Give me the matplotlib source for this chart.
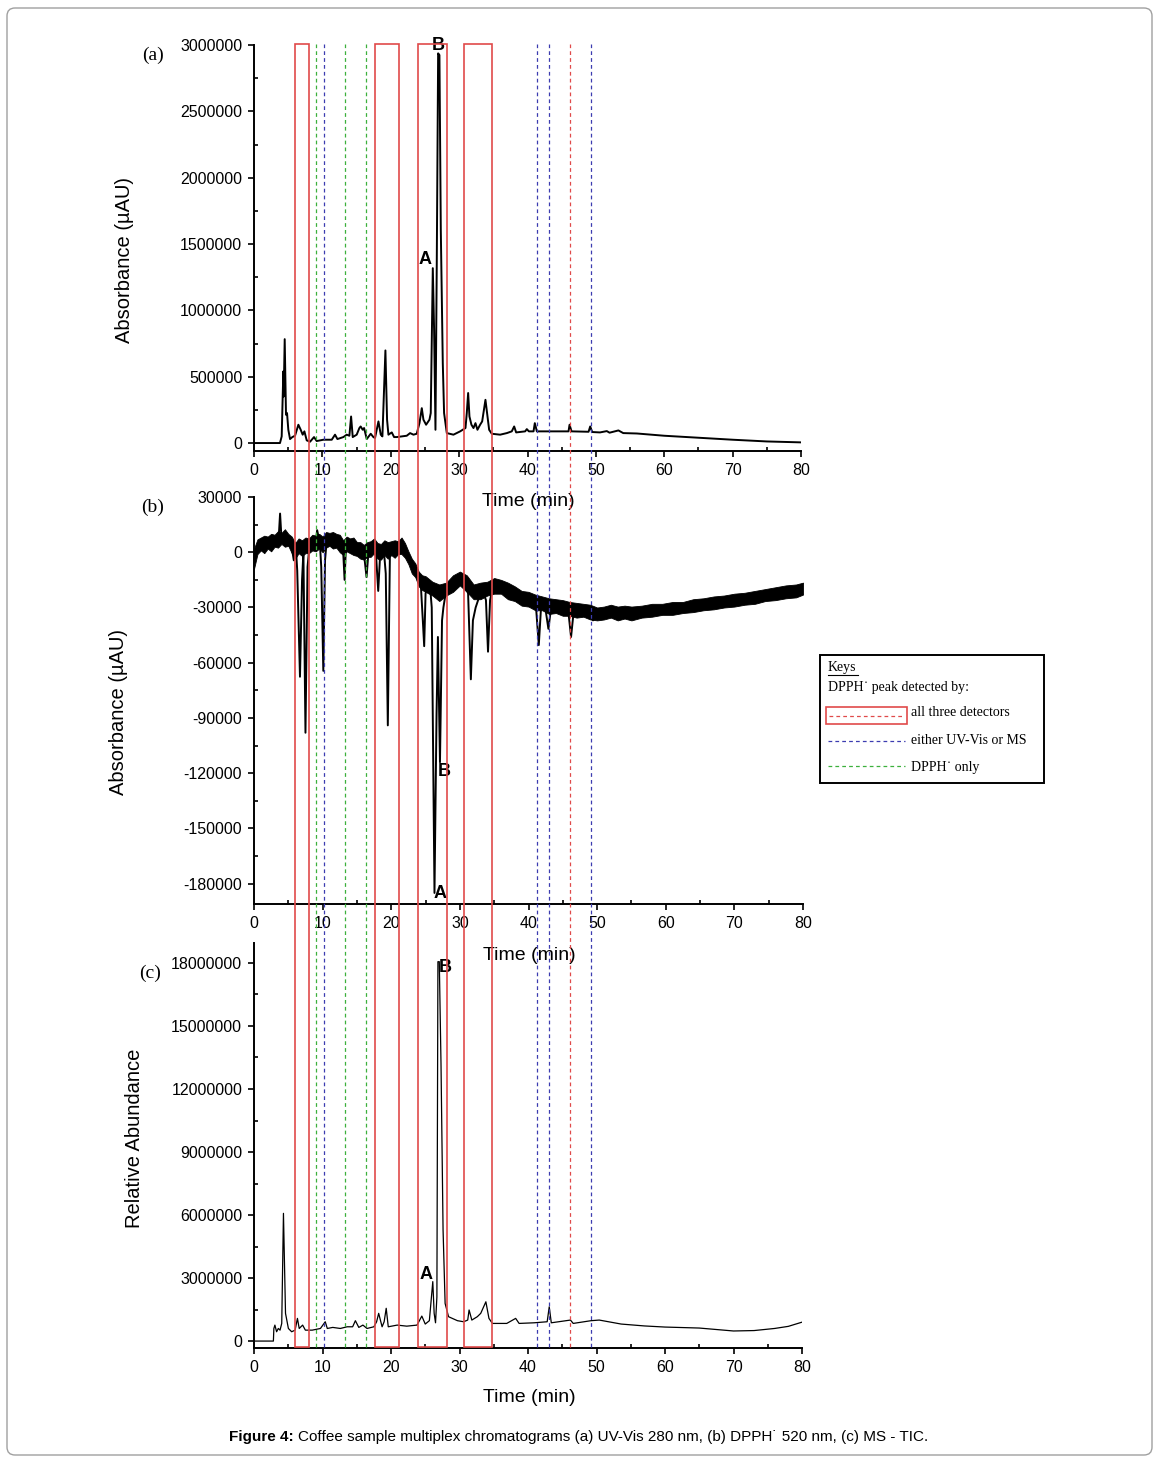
import matplotlib
matplotlib.use('Agg')
import matplotlib.pyplot as plt
import matplotlib.transforms as mtransforms
from matplotlib.ticker import MultipleLocator, FixedLocator, FixedFormatter
from matplotlib.patches import Rectangle, FancyBboxPatch
from matplotlib.lines import Line2D

plt.rcParams['font.family'] = ['Liberation Sans', 'DejaVu Sans']
plt.rcParams['axes.unicode_minus'] = False

# ---- data ----
# (a) UV-Vis 280 nm
a_time = [0, 3.8, 4.05, 4.29, 4.34, 4.49, 4.68, 4.83, 5.02, 5.27, 5.61, 6.0, 6.49, 6.83, 7.12,
          7.37, 7.71, 8.2, 8.78, 9.17, 10.15, 11.37, 11.85, 12.2, 13.07, 13.56, 13.95, 14.2,
          14.44, 15.02, 15.41, 15.6, 15.9, 16.1, 16.49, 17.07, 17.46, 17.7, 18.2, 18.54, 18.78,
          19.22, 19.46, 19.66, 20.15, 20.49, 20.88, 22.34, 22.83, 23.32, 23.8, 24.2, 24.54,
          24.78, 25.17, 25.66, 25.85, 26.15, 26.34, 26.54, 26.73, 26.93, 27.12, 27.32, 27.61,
          27.8, 28.2, 29.17, 30.15, 30.93, 31.12, 31.32, 31.51, 31.8, 32.1, 32.39, 32.68, 33.07,
          33.37, 33.85, 34.15, 34.39, 34.78, 36.0, 36.98, 37.7, 38.05, 38.34, 39.66, 39.9, 40.2,
          40.88, 41.07, 41.37, 46.0, 46.15, 46.44, 48.93, 49.17, 49.46, 50.6, 51.6, 52.0, 53.3,
          54.0, 56.0, 60.0, 65.0, 70.0, 75.0, 80.0]
a_abs = [0, 0, 50000, 540000, 351000, 783000, 213000, 226000, 100000, 30000, 45000, 55000,
         138000, 100000, 63000, 88000, 20000, 10000, 45000, 15000, 25000, 25000, 63000, 30000,
         45000, 63000, 55000, 200000, 45000, 63000, 113000, 125000, 100000, 113000, 30000,
         70000, 45000, 38000, 163000, 63000, 50000, 698000, 176000, 63000, 80000, 45000, 45000,
         55000, 75000, 63000, 70000, 150000, 263000, 176000, 138000, 176000, 226000, 1318000,
         853000, 100000, 1355000, 2937000, 2924000, 1606000, 602000, 226000, 75000, 63000,
         88000, 113000, 226000, 377000, 200000, 138000, 113000, 150000, 100000, 138000, 163000,
         326000, 200000, 100000, 70000, 63000, 75000, 88000, 125000, 80000, 88000, 105000,
         88000, 88000, 150000, 88000, 88000, 138000, 88000, 85000, 125000, 83000, 80000, 90000,
         78000, 95000, 75000, 72000, 55000, 40000, 25000, 12000, 5000]

# (b) DPPH 520 nm, trace
b_time = [0, 0.5, 1, 2, 3, 3.6, 3.8, 4.0, 4.5, 5, 5.4, 5.8, 6.1, 6.3, 6.7, 7.0, 7.2, 7.5, 7.8,
          8.1, 8.5, 9, 9.2, 9.6, 9.8, 10.1, 10.35, 10.6, 11, 12, 12.5, 13.0, 13.2, 13.4, 14, 15,
          15.5, 16, 16.4, 16.7, 17.3, 17.8, 18.1, 18.4, 18.9, 19.2, 19.5, 19.8, 20.2, 21, 21.3,
          21.7, 22.2, 22.8, 23.3, 23.8, 24.3, 24.6, 24.8, 25.0, 25.3, 25.6, 25.9, 26.3, 26.6,
          26.8, 27.1, 27.4, 27.6, 28.0, 28.5, 29.2, 29.8, 30.3, 30.8, 31.2, 31.6, 31.9, 32.3,
          32.8, 33.3, 33.8, 34.1, 34.4, 34.8, 35.2, 36, 37, 38, 38.5, 39.5, 40.5, 41.1, 41.5,
          41.8, 42.4, 42.9, 43.3, 44, 45, 45.8, 46.2, 46.6, 47.5, 48.5, 49.1, 49.4, 49.8, 50.5,
          52, 53.6, 55, 57, 60, 62, 65, 67, 70, 72, 75, 77, 80]
b_abs = [-5000, 3000, 4000, 5000, 6000, 8000, 21000, 8000, 8000, 7000, 5000, -4400, 3000,
         -10000, -67600, -15000, 0, -98000, -8000, 4000, 4500, 5000, 12000, 5000, -8000,
         -64400, -4400, 6500, 7000, 6000, 5000, 0, -15000, 3000, 4000, 2000, 1000, 0, -13500,
         1000, 3000, -2500, -21000, 0, 2000, -11600, -94000, -2500, 2000, 2500, 3000, 4700, 1000,
         -5300, -9800, -13500, -17000, -37000, -51000, -22500, -17000, -16000, -30000,
         -185000, -88000, -46000, -114000, -37000, -30000, -20700, -18000, -17000, -13500,
         -15000, -17000, -22500, -69000, -37000, -30000, -24400, -20700, -26000, -54000,
         -26000, -19000, -17000, -19000, -21600, -23500, -26000, -25000, -25500, -30000,
         -50400, -31600, -29000, -41600, -30000, -29000, -30000, -32000, -46000, -31600,
         -31000, -32000, -33400, -37000, -34400, -33500, -32000, -32500, -33000, -32000,
         -31000, -30000, -29000, -27500, -26000, -25000, -23000, -22000, -20000]

# (b) noise band envelope
band_time = [0, 0.5, 1, 1.5, 2, 2.5, 3, 3.5, 4, 4.5, 5, 5.5, 6, 6.5, 7, 7.5, 8, 8.5, 9, 9.5,
             10, 10.5, 11, 11.5, 12, 12.5, 13, 13.5, 14, 14.5, 15, 15.5, 16, 16.5, 17, 17.5,
             18, 18.5, 19, 19.5, 20, 20.5, 21, 21.5, 22, 22.5, 23, 23.5, 24, 24.5, 25, 26, 27,
             28, 29, 30, 31, 32, 33, 34, 35, 36, 37, 38, 39, 40, 41, 42, 43, 44, 45, 46, 47,
             48, 49, 50, 51, 52, 53, 54, 55, 56.5, 58, 59.5, 61, 62.5, 64, 65.5, 67, 68.5, 70,
             71.5, 73, 74.5, 76, 77.5, 79, 80]
band_lo = [-9000, -1000, 1000, -500, 2000, 500, 3000, 2500, 4500, 3000, 3500, -500, -3500,
           -500, -2000, -500, -500, 1000, 500, 2000, 0, 2500, 3500, 2000, 2500, 0, -1500, 500,
           -500, -1500, -2000, -3500, -4000, -2500, -2500, -500, -3500, -4000, -1500, -3500,
           -1500, -3000, -1000, -1000, -3000, -6500, -11500, -13500, -18500, -20500, -21500,
           -23500, -26500, -23500, -21500, -18000, -21500, -25500, -25500, -23500, -22500,
           -22500, -25500, -26500, -29000, -29500, -31500, -31500, -33500, -33000, -34500,
           -34500, -35500, -35000, -36500, -37000, -36500, -35500, -37000, -36000, -37000,
           -35500, -35000, -34000, -34000, -33000, -32500, -31500, -31000, -30000, -29500,
           -28500, -28000, -26500, -26000, -25000, -24500, -23000]
band_hi = [2000, 7000, 8000, 9000, 8500, 10000, 9500, 11500, 10500, 12500, 10000, 8500, 5000,
           7500, 6500, 8000, 7500, 9500, 9000, 10000, 8500, 11000, 10500, 11000, 10000, 9500,
           6500, 8500, 7500, 8000, 5500, 5500, 4000, 5500, 6000, 7500, 5000, 4500, 6500, 5500,
           6000, 6500, 6000, 8000, 5000, 500, -3500, -6000, -10500, -12500, -13000, -16000,
           -17500, -16500, -12500, -10500, -12500, -17500, -16500, -16000, -14000, -15000,
           -16500, -18500, -21000, -21500, -23000, -24000, -25000, -25500, -26000, -27000,
           -27500, -28000, -28500, -30000, -29500, -28500, -29500, -29000, -29500, -29000,
           -28000, -28000, -27000, -27000, -25500, -25000, -24000, -23500, -22500, -22000,
           -21000, -20000, -19000, -18000, -17500, -16500]

# (c) MS - TIC
c_time = [0, 2.83, 2.9, 3.05, 3.3, 3.55, 3.8, 4.05, 4.3, 4.6, 5.02, 5.5, 6.0, 6.34, 6.6, 7.1,
          7.5, 8.5, 9.7, 10.4, 10.7, 11.5, 12.6, 13.6, 14.4, 14.8, 15.3, 15.9, 16.5, 17.5, 17.9,
          18.2, 18.7, 19.0, 19.3, 19.6, 20.9, 22.3, 23.8, 24.5, 25.0, 25.6, 26.1, 26.3, 26.5,
          26.7, 26.85, 27.05, 27.3, 27.6, 27.9, 28.4, 29.7, 30.6, 31.2, 31.4, 31.8, 32.6, 33.1,
          33.85, 34.3, 34.8, 36.9, 38.2, 38.7, 40.9, 42.8, 43.1, 43.4, 46.2, 46.6, 49.2, 50.4,
          53.6, 57, 60, 65, 70, 73, 76, 78, 80]
c_abund = [0, 0, 600000, 760000, 444000, 600000, 520000, 840000, 6080000, 1320000, 600000,
           444000, 520000, 1080000, 600000, 760000, 520000, 520000, 600000, 920000, 600000,
           650000, 600000, 680000, 680000, 970000, 650000, 760000, 600000, 680000, 920000,
           1320000, 680000, 920000, 1560000, 680000, 760000, 710000, 760000, 1190000, 810000,
           970000, 2830000, 1320000, 870000, 2100000, 18060000, 18060000, 13200000, 5300000,
           1790000, 1160000, 970000, 920000, 1000000, 1480000, 1000000, 1160000, 1320000,
           1870000, 1080000, 840000, 840000, 1080000, 840000, 870000, 920000, 1630000, 870000,
           1000000, 840000, 970000, 1000000, 810000, 720000, 667000, 620000, 480000, 500000,
           600000, 700000, 900000]

# DPPH peak windows (min) and marker lines (min)
all_three = [(6.0, 8.1), (17.6, 21.2), (23.9, 28.2), (30.7, 34.7)]
either_uv_ms = [10.2, 41.3, 43.0, 49.2]
dpph_only = [9.0, 13.35, 16.4]
single_red = [46.1]

x_ticks = [0, 10, 20, 30, 40, 50, 60, 70, 80]
a_ticks = [0, 500000, 1000000, 1500000, 2000000, 2500000, 3000000]
b_ticks = [-180000, -150000, -120000, -90000, -60000, -30000, 0, 30000]
c_ticks = [0, 3000000, 6000000, 9000000, 12000000, 15000000, 18000000]

RED = '#e04a4a'
BLUE = '#3c3cb0'
GREEN = '#3cb03c'

W, H = 1160, 1461
fig = plt.figure(figsize=(W / 100, H / 100), dpi=100)
pix = mtransforms.Affine2D().scale(1 / W, -1 / H).translate(0, 1) + fig.transFigure


def box(left, top, right, bottom):
    return [left / W, 1 - bottom / H, (right - left) / W, (bottom - top) / H]


def style(ax, yticks, ylim, yminor):
    ax.set_xlim(0, 80)
    ax.set_ylim(*ylim)
    for s in ['top', 'right']:
        ax.spines[s].set_visible(False)
    for s in ['left', 'bottom']:
        ax.spines[s].set_linewidth(1.4)
    ax.xaxis.set_major_locator(FixedLocator(x_ticks))
    ax.xaxis.set_minor_locator(MultipleLocator(5))
    ax.yaxis.set_major_locator(FixedLocator(yticks))
    ax.yaxis.set_major_formatter(FixedFormatter([str(v) for v in yticks]))
    ax.yaxis.set_minor_locator(MultipleLocator(yminor))
    ax.tick_params(which='major', direction='out', length=4.5, width=1.2,
                   labelsize=11.5, pad=4)
    ax.tick_params(which='minor', direction='in', length=3, width=1.2)
    ax.patch.set_alpha(0)


ax_a = fig.add_axes(box(254, 45, 801, 451))
ax_b = fig.add_axes(box(254, 497, 803, 904))
ax_c = fig.add_axes(box(254, 943, 802, 1348))

style(ax_a, a_ticks, (-60000, 3000000), 250000)
style(ax_b, b_ticks, (-191000, 30000), 15000)
style(ax_c, c_ticks, (-330000, 18950000), 1500000)

ax_a.plot(a_time, a_abs, color='black', lw=1.4)
ax_b.fill_between(band_time, band_lo, band_hi, color='black', lw=0.6, ec='black')
ax_b.plot(b_time, b_abs, color='black', lw=1.4)
ax_c.plot(c_time, c_abund, color='black', lw=0.9)

lab = dict(fontsize=13, weight='bold', ha='center', va='center')
ax_a.text(26.9, 3000000, 'B', **lab)
ax_a.text(25.0, 1380000, 'A', **lab)
ax_b.text(27.7, -119300, 'B', **lab)
ax_b.text(27.1, -185500, 'A', **lab)
ax_c.text(27.9, 17760000, 'B', **lab)
ax_c.text(25.1, 3190000, 'A', **lab)

# axis titles
for x, y, s in [(125, 260, 'Absorbance (µAU)'), (119, 712, 'Absorbance (µAU)'),
                (134, 1138, 'Relative Abundance')]:
    fig.text(x, y, s, transform=pix, rotation=90, fontsize=14.5, ha='center', va='center')
for x, y in [(528, 501), (529, 955), (529, 1398)]:
    fig.text(x, y, 'Time (min)', transform=pix, fontsize=14, ha='center', va='center')
for x, y, s in [(153, 55, '(a)'), (153, 507, '(b)'), (150, 973, '(c)')]:
    fig.text(x, y, s, transform=pix, fontsize=14, ha='center', va='center',
             family='Liberation Serif')

# peak windows and marker lines across all three panels
span = mtransforms.blended_transform_factory(ax_c.transData, fig.transFigure)
y_bot, y_top = 1 - 1347 / H, 1 - 44 / H
for t0, t1 in all_three:
    fig.add_artist(Rectangle((t0, y_bot), t1 - t0, y_top - y_bot, transform=span,
                             fill=False, ec=RED, lw=1.2, zorder=5))
for group, col in [(either_uv_ms, BLUE), (dpph_only, GREEN), (single_red, RED)]:
    for t in group:
        fig.add_artist(Line2D([t, t], [y_bot, y_top], transform=span, color=col,
                              lw=0.9, ls=(0, (3, 2.5)), zorder=5))

# keys box
fig.add_artist(Rectangle((820, 655), 224, 128, transform=pix, fill=False, ec='black', lw=1.4))
kt = dict(transform=pix, family='Liberation Serif', fontsize=10, va='center', ha='left')
fig.text(828, 668, 'Keys', **kt)
fig.add_artist(Line2D([828, 858], [675, 675], transform=pix, color='black', lw=0.8))
fig.text(828, 688, 'DPPH\u02d9 peak detected by:', **kt)
fig.add_artist(Rectangle((826, 707), 81, 17, transform=pix, fill=False, ec=RED, lw=1.2))
fig.add_artist(Line2D([829, 904], [716, 716], transform=pix, color=RED, lw=0.9,
                      ls=(0, (3, 2.5))))
fig.text(911, 713, 'all three detectors', **kt)
fig.add_artist(Line2D([828, 905], [741, 741], transform=pix, color=BLUE, lw=0.9,
                      ls=(0, (3, 2.5))))
fig.text(911, 740, 'either UV-Vis or MS', **kt)
fig.add_artist(Line2D([828, 905], [766, 766], transform=pix, color=GREEN, lw=0.9,
                      ls=(0, (3, 2.5))))
fig.text(911, 767, 'DPPH\u02d9 only', **kt)

# outer frame
fig.add_artist(FancyBboxPatch((7, 8), 1145, 1447, boxstyle='round,pad=0,rounding_size=8',
                              transform=pix, fill=False, ec='#a0a0a0', lw=1))

# caption
cap_font = ['Liberation Sans Narrow', 'Liberation Sans', 'DejaVu Sans']
c1 = fig.text(0, 1437, 'Figure 4:', transform=pix, fontsize=11, weight='bold',
              family=cap_font, va='center', ha='left')
c2 = fig.text(0, 1437, 'Coffee sample multiplex chromatograms (a) UV-Vis 280 nm, '
              '(b) DPPH\u02d9 520 nm, (c) MS - TIC.', transform=pix, fontsize=11,
              family=cap_font, va='center', ha='left')
fig.canvas.draw()
r = fig.canvas.get_renderer()
w1 = c1.get_window_extent(r).width
w2 = c2.get_window_extent(r).width
x0 = 578.5 - (w1 + 4 + w2) / 2
c1.set_x(x0)
c2.set_x(x0 + w1 + 4)

fig.savefig('out.png', dpi=100)
